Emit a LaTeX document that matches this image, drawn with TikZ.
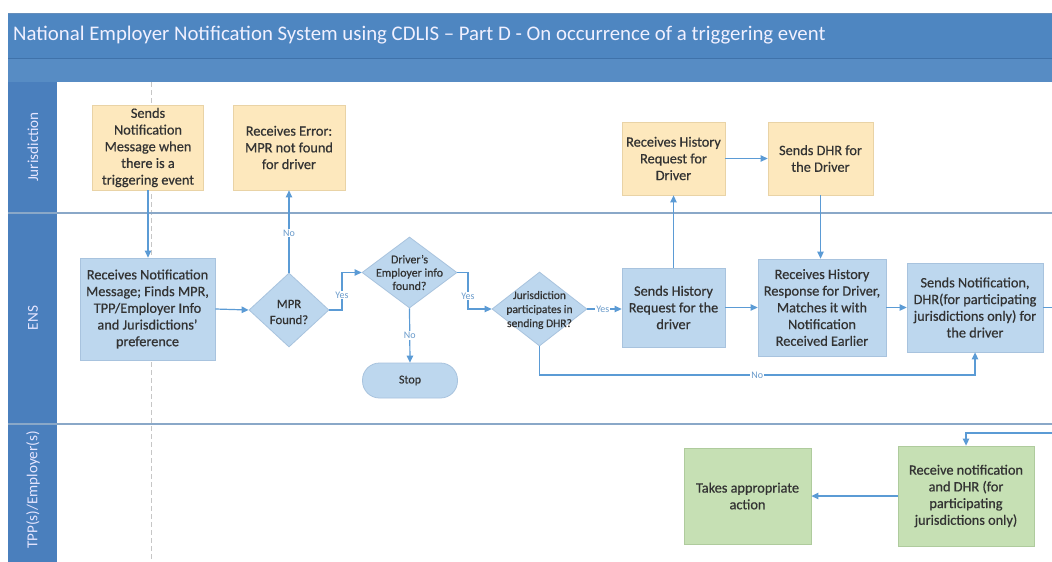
\documentclass[tikz,border=0pt]{standalone}
\usepackage{fontspec}
\setmainfont{Carlito}
\newfontfamily\semib[FakeBold=0.6]{Carlito}
\usetikzlibrary{arrows.meta,shapes.geometric,positioning,calc}
\definecolor{barblue}{HTML}{4E86C1}
\definecolor{barline}{HTML}{3F72AA}
\definecolor{lanehead}{HTML}{4A7FBD}
\definecolor{laneline}{HTML}{8AA8C8}
\definecolor{yfill}{HTML}{FDE8BD}
\definecolor{ydraw}{HTML}{E9D3A6}
\definecolor{bfill}{HTML}{BDD7EE}
\definecolor{bdraw}{HTML}{A8C3DE}
\definecolor{gfill}{HTML}{C6E0B4}
\definecolor{gdraw}{HTML}{AFCB9D}
\definecolor{conn}{HTML}{5B9BD5}
\definecolor{txt}{HTML}{333333}
\definecolor{lbl}{HTML}{6A9BCB}
\tikzset{
  box/.style={rectangle, draw=#1draw, fill=#1fill, line width=0.8pt, inner sep=2pt,
    align=center, text=txt, font=\semib\fontsize{14.3}{16.7}\selectfont},
  dia/.style={diamond, draw=bdraw, fill=bfill, line width=0.8pt, inner sep=0pt},
  diatext/.style={align=center, text=txt, inner sep=0pt},
  term/.style={rectangle, rounded corners=17pt, draw=bdraw, fill=bfill, line width=0.8pt,
    text=txt, font=\semib\fontsize{12}{14}\selectfont},
  flow/.style={draw=conn, line width=1.2pt, -{Triangle[length=7pt,width=6.5pt]}},
  yn/.style={fill=white, inner sep=1pt, text=lbl, font=\fontsize{10}{11}\selectfont},
  lanelabel/.style={rotate=90, text=white!90!blue, font=\fontsize{15.2}{17}\selectfont},
}
\begin{document}
\begin{tikzpicture}[x=1pt,y=-1pt]
\useasboundingbox (0,0) rectangle (1052,562);
\clip (0,0) rectangle (1052,562);
\fill[white] (0,0) rectangle (1052,562);
% title bars
\fill[barblue] (8,13) rectangle (1052,58);
\fill[barblue!95!white] (8,58) rectangle (1052,82);
\draw[barline, line width=1pt] (8,58) -- (1052,58);
\draw[barline!80!white, line width=0.6pt] (8,13) -- (1052,13);
\node[anchor=west, text=white!94!blue, font=\fontsize{20.8}{24}\selectfont, inner sep=0pt] (title) at (13,35)
  {National Employer Notification System using CDLIS – Part D - On occurrence of a triggering event};
% lane header column
\fill[lanehead] (8,82) rectangle (57,562);
% dashed line
\draw[gray!45, dash pattern=on 5pt off 3pt, line width=0.8pt] (151,82) -- (151,562);
% lane dividers
\draw[laneline, line width=1.5pt] (8,213) -- (1052,213);
\draw[laneline, line width=1.5pt] (8,424) -- (1052,424);
\node[lanelabel] (lj) at (33,147) {Jurisdiction};
\node[lanelabel] (le) at (33,318) {ENS};
\node[lanelabel] (lt) at (33,490) {TPP(s)/Employer(s)};
% nodes
\node[box=y, minimum width=111pt, minimum height=85pt] (n1) at (148,147.5)
  {Sends\\Notification\\Message when\\there is a\\triggering event};
\node[box=y, minimum width=112pt, minimum height=85pt] (n2) at (289,147.5)
  {Receives Error:\\MPR not found\\for driver};
\node[box=b, minimum width=135pt, minimum height=102pt] (n5) at (147.5,309)
  {Receives Notification\\Message; Finds MPR,\\TPP/Employer Info\\and Jurisdictions’\\preference};
\node[dia, minimum width=80pt, minimum height=74pt] (mpr) at (289,310) {};
\node[diatext, font=\semib\fontsize{12.7}{16}\selectfont] (mprt) at (289,312) {MPR\\Found?};
\node[dia, minimum width=95pt, minimum height=71pt] (emp) at (409.5,272.5) {};
\node[diatext, font=\semib\fontsize{11.9}{13.3}\selectfont] (empt) at (409.5,272.5) {Driver’s\\Employer info\\found?};
\node[term, minimum width=95pt, minimum height=35pt] (stop) at (410,380.5) {Stop};
\node[dia, minimum width=95pt, minimum height=74pt] (jur) at (539.5,309) {};
\node[diatext, font=\semib\fontsize{11.5}{14}\selectfont] (jurt) at (539.5,310) {Jurisdiction\\participates in\\sending DHR?};
\node[box=b, minimum width=103pt, minimum height=79pt] (n10) at (673.5,307.5)
  {Sends History\\Request for the\\driver};
\node[box=y, minimum width=103pt, minimum height=73pt] (n3) at (673.5,158.5)
  {Receives History\\Request for\\Driver};
\node[box=y, minimum width=105pt, minimum height=73pt] (n4) at (820.5,158.5)
  {Sends DHR for\\the Driver};
\node[box=b, minimum width=128pt, minimum height=97pt] (n11) at (822,307.5)
  {Receives History\\Response for Driver,\\Matches it with\\Notification\\Received Earlier};
\node[box=b, minimum width=136pt, minimum height=89pt] (n12) at (975,307.5)
  {Sends Notification,\\DHR(for participating\\jurisdictions only) for\\the driver};
\node[box=g, minimum width=136pt, minimum height=100pt] (n13) at (966,496)
  {Receive notification\\and DHR (for\\participating\\jurisdictions only)};
\node[box=g, minimum width=127pt, minimum height=96pt] (n14) at (747.5,496)
  {Takes appropriate\\action};
% connectors
\draw[flow] (n1.south -| 148,0) -- (n5.north -| 148,0);
\draw[flow] (n5.east) -- (mpr.west);
\draw[flow] (mpr.north) -- node[yn, pos=0.48] (lno1) {No} (n2.south -| mpr.north);
\draw[flow] (mpr.east) -- (342,310) -- node[yn, pos=0.4] (lyes1) {Yes} (342,272.5) -- (emp.west);
\draw[flow] (emp.south) -- node[yn, pos=0.5] (lno2) {No} (stop.north);
\draw[flow] (emp.east) -- (468,272.5) -- node[yn, pos=0.65] (lyes2) {Yes} (468,309) -- (jur.west);
\draw[flow] (jur.east) -- node[yn, pos=0.45] (lyes3) {Yes} (jur.east -| n10.west);
\draw[flow] (jur.south) -- (539.5,375) -- node[yn, pos=0.5] (lno3) {No} (975,375) -- (n12.south);
\draw[flow] (n10.north) -- (n3.south);
\draw[flow] (n3.east) -- (n4.west);
\draw[flow] (n4.south) -- (n4.south |- n11.north);
\draw[flow] (n10.east) -- (n11.west |- n10.east);
\draw[flow] (n11.east) -- (n12.west |- n11.east);
\coordinate (off1) at (1070,307.5);
\coordinate (off2) at (1070,433);
\draw[flow] (n12.east) -- (off1) -- (off2) -- (966,433) -- (n13.north);
\draw[flow] (n13.west) -- (n14.east);
\end{tikzpicture}
\end{document}
